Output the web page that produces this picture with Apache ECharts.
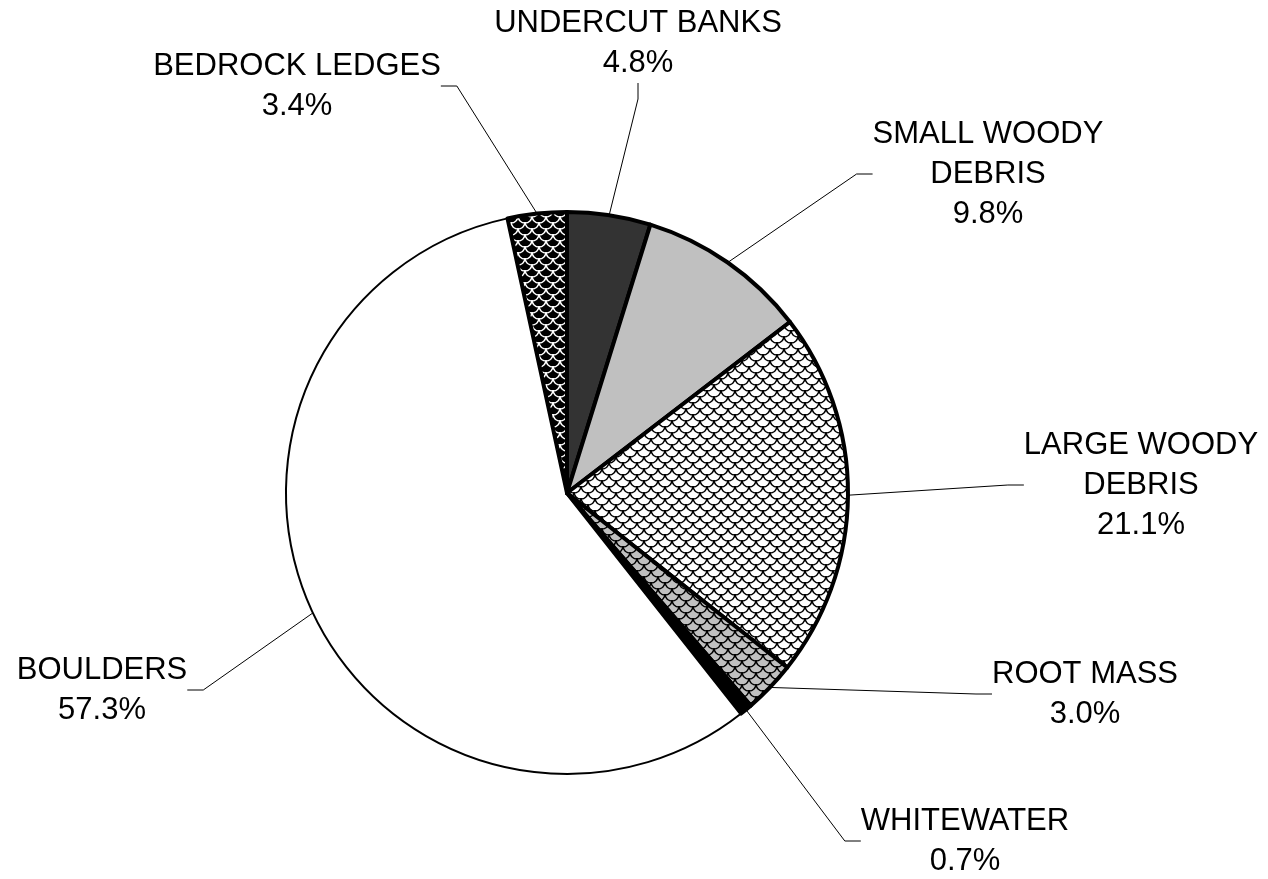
<!DOCTYPE html>
<html>
<head>
<meta charset="utf-8">
<script src="https://cdn.jsdelivr.net/npm/echarts@6/dist/echarts.min.js"></script>
<style>
  html, body { margin: 0; padding: 0; background: #fff; }
  #chart { width: 1268px; height: 879px; }
</style>
</head>
<body>
<div id="chart"></div>
<script>
// slices in clockwise order starting at 12 o'clock
var habitatNames = ['UNDERCUT BANKS', 'SMALL WOODY\nDEBRIS', 'LARGE WOODY\nDEBRIS', 'ROOT MASS', 'WHITEWATER', 'BOULDERS', 'BEDROCK LEDGES'];
var habitatPercent = [4.8, 9.8, 21.1, 3.0, 0.7, 57.3, 3.4];

// fish-scale fill
function scalePattern(bg, fg) {
  var c = document.createElement('canvas');
  c.width = 14;
  c.height = 12;
  var ctx = c.getContext('2d');
  ctx.fillStyle = bg;
  ctx.fillRect(0, 0, 14, 12);
  ctx.strokeStyle = fg;
  ctx.lineWidth = 1.4;
  var centers = [[7, -12], [7, 0], [7, 12], [0, -6], [14, -6], [0, 6], [14, 6]];
  centers.forEach(function (p) {
    ctx.beginPath();
    ctx.arc(p[0], p[1], 7, 0, Math.PI);
    ctx.stroke();
  });
  return { image: c, repeat: 'repeat' };
}

var fills = {
  'UNDERCUT BANKS': '#333333',
  'SMALL WOODY\nDEBRIS': '#c0c0c0',
  'LARGE WOODY\nDEBRIS': scalePattern('#ffffff', '#000000'),
  'ROOT MASS': scalePattern('#c0c0c0', '#000000'),
  'WHITEWATER': '#000000',
  'BOULDERS': '#ffffff',
  'BEDROCK LEDGES': scalePattern('#000000', '#ffffff')
};

// label block centres
var labelPos = {
  'UNDERCUT BANKS': [638, 43],
  'SMALL WOODY\nDEBRIS': [988, 174],
  'LARGE WOODY\nDEBRIS': [1141, 485],
  'ROOT MASS': [1085, 694],
  'WHITEWATER': [965, 841],
  'BOULDERS': [102, 690],
  'BEDROCK LEDGES': [297, 86]
};

// draw boulders first so the thick borders of the others sit on top
var first = habitatNames.indexOf('BOULDERS');
var total = habitatPercent.reduce(function (a, b) { return a + b; }, 0);
var before = 0;
for (var i = 0; i < first; i++) before += habitatPercent[i];
var startAngle = 90 - 360 * before / total;

var order = [];
for (var k = 0; k < habitatNames.length; k++) order.push((first + k) % habitatNames.length);

var pieData = order.map(function (idx) {
  var name = habitatNames[idx];
  return {
    name: name,
    value: habitatPercent[idx],
    itemStyle: {
      color: fills[name],
      borderColor: '#000',
      borderWidth: name === 'BOULDERS' ? 2 : 4
    }
  };
});

var chart = echarts.init(document.getElementById('chart'));
chart.setOption({
  animation: false,
  backgroundColor: '#fff',
  series: [
    {
      type: 'pie',
      center: [567, 493],
      radius: 281,
      startAngle: startAngle,
      clockwise: true,
      data: pieData,
      emphasis: { disabled: true },
      label: {
        show: true,
        position: 'outside',
        color: '#000',
        fontFamily: 'Liberation Sans, Arial, sans-serif',
        fontSize: 31,
        lineHeight: 40,
        align: 'center',
        formatter: function (p) {
          return p.name + '\n' + p.value.toFixed(1) + '%';
        }
      },
      labelLine: {
        show: true,
        length: 20,
        length2: 16,
        smooth: false,
        lineStyle: { color: '#000', width: 1 }
      },
      labelLayout: function (params) {
        var name = pieData[params.dataIndex].name;
        var pos = labelPos[name];
        return {
          x: pos[0],
          y: pos[1],
          align: 'center',
          verticalAlign: 'middle'
        };
      }
    }
  ]
});
</script>
</body>
</html>
